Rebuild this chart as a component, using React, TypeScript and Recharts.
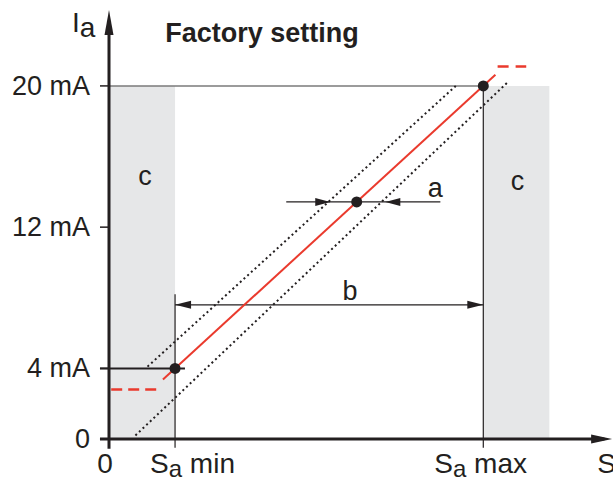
import {
   ComposedChart,
   Line,
   XAxis,
   YAxis,
   ReferenceArea,
   ReferenceLine,
   ReferenceDot,
} from 'recharts';

const FONT = '"Liberation Sans", Arial, Helvetica, sans-serif';
const INK = '#231f20';
const RED = '#ea3a2d';
const ZONE = '#e6e7e8';

// S axis (arbitrary units): 0, Sa min, Sa max
const sTicks = [0, 3, 17];
const sTickLabels = [
   { main: '0', sub: '', rest: '' },
   { main: 'S', sub: 'a', rest: ' min' },
   { main: 'S', sub: 'a', rest: ' max' },
];
// output current
const mATicks = [0, 4, 12, 20];
const mATickLabels = ['0', '4 mA', '12 mA', '20 mA'];

// characteristic
const redSolid = [
   { x: 2.45, y: 3.37 },
   { x: 17.55, y: 20.63 },
];
const redLow = [
   { x: 0.1, y: 2.8 },
   { x: 2.2, y: 2.8 },
];
const redHigh = [
   { x: 17.65, y: 21.1 },
   { x: 18.95, y: 21.1 },
];
const upperDotted = [
   { x: 1.75, y: 4.1 },
   { x: 15.75, y: 20 },
];
const lowerDotted = [
   { x: 1.2, y: 0.2 },
   { x: 18.1, y: 20.2 },
];
const markers = [
   { x: 3, y: 4 },
   { x: 11.25, y: 13.43 },
   { x: 17, y: 20 },
];

// zones "c"
const zones = [
   { x1: 0, x2: 3 },
   { x1: 17, x2: 20 },
];
const zoneTop = 20;

// dimension "a"
const aLevel = 13.43;
const aLine = [8.05, 15.05];
const aTips = [10.05, 12.55];
// dimension "b"
const bLevel = 7.6;
const bLine = [3, 17];

const arrowHead = (dir: 'left' | 'right' | 'up', len: number, half: number) => (props: any) => {
   const { cx, cy } = props;
   let pts = '';
   if (dir === 'right') pts = `${cx},${cy} ${cx - len},${cy - half} ${cx - len},${cy + half}`;
   if (dir === 'left') pts = `${cx},${cy} ${cx + len},${cy - half} ${cx + len},${cy + half}`;
   if (dir === 'up') pts = `${cx},${cy} ${cx - half},${cy + len} ${cx + half},${cy + len}`;
   return <polygon points={pts} fill={INK} />;
};

const textAt =
   (content: React.ReactNode, anchor: 'start' | 'middle' | 'end' = 'middle', size = 27, weight = 400) =>
   (props: any) => (
      <text
         x={props.cx}
         y={props.cy}
         textAnchor={anchor}
         fontSize={size}
         fontWeight={weight}
         fontFamily={FONT}
         fill={INK}
      >
         {content}
      </text>
   );

const YTick = (props: any) => {
   const { x, y, payload } = props;
   const label = mATickLabels[mATicks.indexOf(payload.value)];
   return (
      <text x={x} y={y + 9} textAnchor="end" fontSize={27} fontFamily={FONT} fill={INK}>
         {label}
      </text>
   );
};

const xOffsets = [-4, -25, -49];

const XTick = (props: any) => {
   const { x, y, payload } = props;
   const i = sTicks.indexOf(payload.value);
   const l = sTickLabels[i];
   if (!l.sub) {
      return (
         <text x={x + xOffsets[i]} y={y + 34} textAnchor="middle" fontSize={28} fontFamily={FONT} fill={INK}>
            {l.main}
         </text>
      );
   }
   return (
      <text x={x + xOffsets[i]} y={y + 34} textAnchor="start" fontSize={28} fontFamily={FONT} fill={INK}>
         <tspan>{l.main}</tspan>
         <tspan dy={4} fontSize={24}>{l.sub}</tspan>
         <tspan dy={-4}>{l.rest}</tspan>
      </text>
   );
};

const noDot = false;

export default function App() {
   return (
      <div style={{ position: 'absolute', left: 0, top: 0, background: '#fff' }}>
         <ComposedChart width={613} height={479} margin={{ top: 10, right: 2, bottom: 0, left: 0 }}>
            <XAxis
               type="number"
               dataKey="x"
               domain={[0, 22.8]}
               ticks={sTicks}
               allowDataOverflow
               axisLine={false}
               tickLine={false}
               tickSize={0}
               tickMargin={0}
               height={40}
               tick={<XTick />}
               interval={0}
            />
            <YAxis
               type="number"
               dataKey="y"
               domain={[0, 24.3]}
               ticks={mATicks}
               allowDataOverflow
               axisLine={false}
               tickLine={{ stroke: INK, strokeWidth: 1.5 }}
               tickSize={9}
               tickMargin={10}
               width={109}
               tick={<YTick />}
               interval={0}
            />

            {zones.map((z, i) => (
               <ReferenceArea
                  key={`zone-${i}`}
                  x1={z.x1}
                  x2={z.x2}
                  y1={0}
                  y2={zoneTop}
                  fill={ZONE}
                  fillOpacity={1}
                  stroke="none"
                  ifOverflow="visible"
               />
            ))}

            {/* 20 mA level, 4 mA level */}
            <ReferenceLine
               segment={[{ x: 0, y: 20 }, { x: 17, y: 20 }]}
               stroke="#7a7a7a"
               strokeWidth={1.5}
               ifOverflow="visible"
            />
            <ReferenceLine
               segment={[{ x: -0.41, y: 4 }, { x: 3.45, y: 4 }]}
               stroke={INK}
               strokeWidth={2}
               ifOverflow="visible"
            />
            {/* Sa min / Sa max verticals */}
            <ReferenceLine
               segment={[{ x: 3, y: -0.5 }, { x: 3, y: 8.2 }]}
               stroke={INK}
               strokeWidth={1.2}
               ifOverflow="visible"
            />
            <ReferenceLine
               segment={[{ x: 17, y: -0.5 }, { x: 17, y: 20 }]}
               stroke={INK}
               strokeWidth={1.2}
               ifOverflow="visible"
            />

            {/* axes */}
            <ReferenceLine
               segment={[{ x: -0.41, y: 0 }, { x: 22.5, y: 0 }]}
               stroke={INK}
               strokeWidth={3}
               ifOverflow="visible"
            />
            <ReferenceLine
               segment={[{ x: 0, y: -0.55 }, { x: 0, y: 23.5 }]}
               stroke={INK}
               strokeWidth={3}
               ifOverflow="visible"
            />
            <ReferenceDot x={22.85} y={0} r={0} ifOverflow="visible" shape={arrowHead('right', 21, 4.5)} />
            <ReferenceDot x={0} y={24.3} r={0} ifOverflow="visible" shape={arrowHead('up', 25, 4.5)} />

            {/* dimension a */}
            <ReferenceLine
               segment={[{ x: aLine[0], y: aLevel }, { x: aLine[1], y: aLevel }]}
               stroke={INK}
               strokeWidth={1.2}
               ifOverflow="visible"
            />
            <ReferenceDot x={aTips[0]} y={aLevel} r={0} ifOverflow="visible" shape={arrowHead('right', 15, 4)} />
            <ReferenceDot x={aTips[1]} y={aLevel} r={0} ifOverflow="visible" shape={arrowHead('left', 15, 4)} />

            {/* dimension b */}
            <ReferenceLine
               segment={[{ x: bLine[0], y: bLevel }, { x: bLine[1], y: bLevel }]}
               stroke={INK}
               strokeWidth={1.2}
               ifOverflow="visible"
            />
            <ReferenceDot x={bLine[0]} y={bLevel} r={0} ifOverflow="visible" shape={arrowHead('left', 16, 4)} />
            <ReferenceDot x={bLine[1]} y={bLevel} r={0} ifOverflow="visible" shape={arrowHead('right', 16, 4)} />

            <Line
               data={upperDotted}
               dataKey="y"
               stroke={INK}
               strokeWidth={2}
               strokeDasharray="2 3"
               dot={noDot}
               activeDot={false}
               isAnimationActive={false}
            />
            <Line
               data={lowerDotted}
               dataKey="y"
               stroke={INK}
               strokeWidth={2}
               strokeDasharray="2 3"
               dot={noDot}
               activeDot={false}
               isAnimationActive={false}
            />
            <Line
               data={redSolid}
               dataKey="y"
               stroke={RED}
               strokeWidth={2}
               dot={noDot}
               activeDot={false}
               isAnimationActive={false}
            />
            <Line
               data={redLow}
               dataKey="y"
               stroke={RED}
               strokeWidth={2.5}
               strokeDasharray="11 6"
               dot={noDot}
               activeDot={false}
               isAnimationActive={false}
            />
            <Line
               data={redHigh}
               dataKey="y"
               stroke={RED}
               strokeWidth={2.5}
               strokeDasharray="11 7"
               dot={noDot}
               activeDot={false}
               isAnimationActive={false}
            />

            {markers.map((m, i) => (
               <ReferenceDot
                  key={`m-${i}`}
                  x={m.x}
                  y={m.y}
                  r={5.5}
                  fill={INK}
                  stroke="none"
                  ifOverflow="visible"
               />
            ))}

            {/* text */}
            <ReferenceDot x={1.64} y={14.4} r={0} ifOverflow="visible" shape={textAt('c')} />
            <ReferenceDot x={18.55} y={14.13} r={0} ifOverflow="visible" shape={textAt('c')} />
            <ReferenceDot x={14.82} y={13.73} r={0} ifOverflow="visible" shape={textAt('a')} />
            <ReferenceDot x={10.95} y={7.9} r={0} ifOverflow="visible" shape={textAt('b')} />
            <ReferenceDot
               x={2.55}
               y={22.46}
               r={0}
               ifOverflow="visible"
               shape={textAt('Factory setting', 'start', 27, 700)}
            />
            <ReferenceDot
               x={-1.68}
               y={23.08}
               r={0}
               ifOverflow="visible"
               shape={textAt(
                  <>
                     <tspan>I</tspan>
                     <tspan dy={5}>a</tspan>
                  </>,
                  'start',
                  28,
               )}
            />
            <ReferenceDot x={22.18} y={-1.9} r={0} ifOverflow="visible" shape={textAt('S', 'start', 28)} />
         </ComposedChart>
      </div>
   );
}
